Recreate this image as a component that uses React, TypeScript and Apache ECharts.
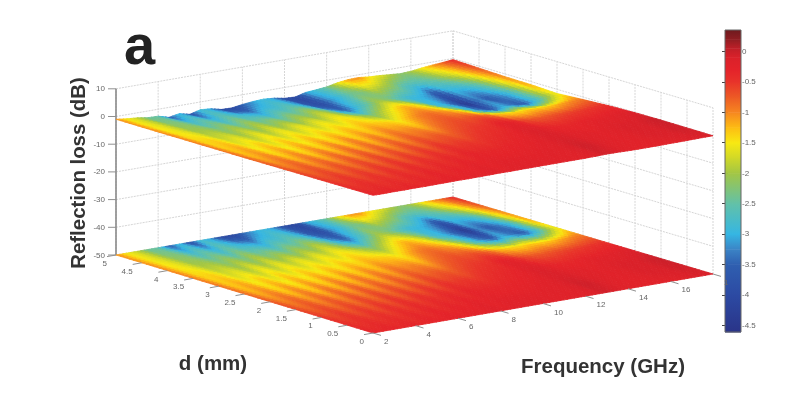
import React, { useEffect, useRef } from "react";
import * as echarts from "echarts";

const frequencies = [2, 2.5, 3, 3.5, 4, 4.5, 5, 5.5, 6, 6.5, 7, 7.5, 8, 8.5, 9, 9.5, 10, 10.5, 11, 11.5, 12, 12.5, 13, 13.5, 14, 14.5, 15, 15.5, 16, 16.5, 17, 17.5, 18];
const thicknesses = [0, 0.5, 1, 1.5, 2, 2.5, 3, 3.5, 4, 4.5, 5];

// one row per frequency, one value per thickness
const lossByFrequency = [
  [-.3, -.4, -.5, -.6, -.7, -.8, -.85, -.9, -.95, -1, -1],
  [-.35, -.5, -.65, -.85, -1.05, -1.25, -1.35, -1.4, -1.45, -1.5, -1.5],
  [-.3, -.4, -.5, -.65, -.8, -1.0, -1.15, -1.35, -1.6, -1.7, -1.8],
  [-.35, -.5, -.7, -.95, -1.2, -1.45, -1.6, -1.8, -2, -2.2, -2.4],
  [-.3, -.4, -.5, -.65, -.85, -1.05, -1.3, -1.65, -2, -2.25, -2.5],
  [-.35, -.5, -.7, -.95, -1.25, -1.5, -1.7, -2, -2.3, -2.8, -3.6],
  [-.3, -.35, -.45, -.6, -.8, -1.05, -1.3, -1.6, -2.05, -2.5, -2.9],
  [-.3, -.45, -.65, -.9, -1.2, -1.45, -1.65, -2, -2.4, -3, -3.8],
  [-.25, -.3, -.4, -.55, -.75, -1.0, -1.3, -1.6, -2, -2.5, -2.8],
  [-.3, -.4, -.6, -.85, -1.15, -1.4, -1.6, -1.95, -2.4, -2.8, -3.1],
  [-.25, -.3, -.4, -.55, -.75, -.95, -1.3, -1.6, -2.2, -3, -4],
  [-.25, -.35, -.5, -.8, -1.1, -1.35, -1.55, -1.9, -2.5, -3.2, -4.1],
  [-.2, -.25, -.35, -.5, -.7, -.95, -1.25, -1.55, -2.1, -2.8, -3.5],
  [-.25, -.3, -.45, -.7, -1, -1.25, -1.45, -1.8, -2.3, -2.8, -3.1],
  [-.2, -.25, -.3, -.45, -.65, -.9, -1.2, -1.45, -1.9, -2.6, -2.9],
  [-.2, -.25, -.35, -.55, -.8, -1.05, -1.3, -1.65, -2.2, -2.9, -3.2],
  [-.2, -.25, -.35, -.5, -.7, -1, -1.35, -2.0, -3.0, -3.7, -3.9],
  [-.2, -.25, -.35, -.55, -.8, -1.2, -1.55, -2.3, -3.5, -4.0, -4.1],
  [-.2, -.25, -.3, -.45, -.65, -.9, -1.2, -1.9, -2.9, -3.2, -3.1],
  [-.2, -.2, -.3, -.4, -.55, -.75, -.95, -1.5, -2.5, -2.9, -2.8],
  [-.2, -.2, -.25, -.35, -.5, -.65, -.85, -1.2, -2, -2.4, -2.4],
  [-.15, -.15, -.2, -.3, -.45, -.7, -1, -1.4, -2.2, -2.3, -1.6],
  [-.05, -.05, -.1, -.15, -.25, -.65, -1.2, -1.9, -2.6, -1.8, -1.1],
  [-.1, -.05, -.1, -.15, -.3, -.8, -1.7, -2.8, -2.9, -2, -1.0],
  [-.2, -.15, -.2, -.3, -.6, -1.2, -2.6, -3.05, -3, -2.2, -1.4],
  [-.25, -.2, -.2, -.35, -.7, -1.35, -3.2, -3.6, -3.2, -2.6, -1.6],
  [-.25, -.25, -.25, -.35, -.7, -1.4, -3.6, -4.5, -3.9, -2.7, -1.9],
  [-.25, -.2, -.2, -.3, -.65, -1.3, -3, -3.2, -3, -2.6, -2.2],
  [-.2, -.15, -.15, -.25, -.6, -1.35, -3.3, -3.6, -3, -2.4, -2.0],
  [-.2, -.1, -.1, -.25, -.55, -1.3, -3.6, -3.3, -2.8, -2, -1.5],
  [-.15, -.1, -.1, -.2, -.5, -1.15, -2.95, -2.85, -2.3, -1.6, -1.1],
  [-.1, -.05, -.05, -.15, -.45, -1, -2.2, -2, -1.5, -1.1, -.8],
  [-.1, -.05, 0, -.1, -.4, -.9, -1.5, -1.1, -1, -.7, -.4],
];

const freqTicks = [2, 4, 6, 8, 10, 12, 14, 16, 18];
const freqTickLabels = ["2", "4", "6", "8", "10", "12", "14", "16", "1"];
const dTicks = [0, 0.5, 1, 1.5, 2, 2.5, 3, 3.5, 4, 4.5, 5];
const dTickLabels = ["0", "0.5", "1", "1.5", "2", "2.5", "3", "3.5", "4", "4.5", "5"];
const zTicks = [10, 0, -10, -20, -30, -40, -50];
const barTicks = [0, -0.5, -1, -1.5, -2, -2.5, -3, -3.5, -4, -4.5];

const colorValues = [-4.61, -4, -3.5, -3.25, -3, -2.5, -2, -1.75, -1.5, -1.25, -1, -0.75, -0.5, -0.3, -0.1, 0.05, 0.2, 0.35];
const colorHex = ["#2a3488", "#2c4aa3", "#2f5fb0", "#3b84c6", "#35b6e3", "#62c1a8", "#a3c644", "#d0d828", "#f8e912", "#fdbc13", "#f68620", "#ed5a25", "#e8332a", "#e4232a", "#da212a", "#bf1f28", "#8f1d22", "#6e1a1e"];

const GRAY = "#666666";
const FONT = '"Liberation Sans", Arial, sans-serif';

const toRgb = (h: string) => [1, 3, 5].map((i) => parseInt(h.slice(i, i + 2), 16));
const colorOf = (v: number) => {
  if (v <= colorValues[0]) return colorHex[0];
  for (let i = 1; i < colorValues.length; i++) {
    if (v <= colorValues[i]) {
      const t = (v - colorValues[i - 1]) / (colorValues[i] - colorValues[i - 1]);
      const a = toRgb(colorHex[i - 1]);
      const b = toRgb(colorHex[i]);
      return `rgb(${a.map((c, k) => Math.round(c + (b[k] - c) * t)).join(",")})`;
    }
  }
  return colorHex[colorHex.length - 1];
};

// oblique view of the (frequency, thickness, loss) box, into the hidden page axes
const project = (f: number, d: number, z: number) => {
  const u = (f - 2) / 16;
  const v = d / 5;
  return [373 + 340 * u - 257 * v - 3 * u * v, 333 - 59 * u - 78 * v + u * v - (z + 50) * 2.77];
};

const SUB_F = 3;
const SUB_D = 6;
const cells: number[][] = [];
for (let j = thicknesses.length - 2; j >= 0; j--) {
  for (let i = 0; i < frequencies.length - 1; i++) cells.push([i, j]);
}

const surface = (flat: boolean) => (params: any, api: any) => {
  const [i, j] = cells[params.dataIndex];
  const q00 = lossByFrequency[i][j];
  const q10 = lossByFrequency[i + 1][j];
  const q01 = lossByFrequency[i][j + 1];
  const q11 = lossByFrequency[i + 1][j + 1];
  const val = (a: number, b: number) =>
    q00 * (1 - a) * (1 - b) + q10 * a * (1 - b) + q01 * (1 - a) * b + q11 * a * b;
  const pt = (a: number, b: number) => {
    const f = frequencies[i] + a * (frequencies[i + 1] - frequencies[i]);
    const d = thicknesses[j] + b * (thicknesses[j + 1] - thicknesses[j]);
    return api.coord(project(f, d, flat ? -50 : val(a, b)));
  };
  const children: any[] = [];
  for (let m = SUB_D - 1; m >= 0; m--) {
    for (let n = 0; n < SUB_F; n++) {
      const a0 = n / SUB_F, a1 = (n + 1) / SUB_F, b0 = m / SUB_D, b1 = (m + 1) / SUB_D;
      const c = colorOf(val((a0 + a1) / 2, (b0 + b1) / 2));
      children.push({
        type: "polygon",
        shape: { points: [pt(a0, b0), pt(a1, b0), pt(a1, b1), pt(a0, b1)] },
        style: { fill: c, stroke: c, lineWidth: 0.8 },
      });
    }
  }
  return { type: "group", children };
};

type Seg = { p: number[][]; kind: string };
const wallSegs: Seg[] = [];
freqTicks.forEach((f) => wallSegs.push({ p: [[f, 5, -50], [f, 5, 10]], kind: "grid" }));
dTicks.forEach((d) => wallSegs.push({ p: [[18, d, -50], [18, d, 10]], kind: "grid" }));
zTicks.forEach((z) => {
  wallSegs.push({ p: [[2, 5, z], [18, 5, z]], kind: "grid" });
  wallSegs.push({ p: [[18, 5, z], [18, 0, z]], kind: "grid" });
});

const drawSeg = (list: Seg[]) => (params: any, api: any) => {
  const s = list[params.dataIndex];
  const a = api.coord(project(s.p[0][0], s.p[0][1], s.p[0][2]));
  const b = api.coord(project(s.p[1][0], s.p[1][1], s.p[1][2]));
  return {
    type: "line",
    shape: { x1: a[0], y1: a[1], x2: b[0], y2: b[1] },
    style: s.kind === "grid"
      ? { stroke: "#d6d6d6", lineWidth: 1, lineDash: [2, 1] }
      : { stroke: "#8a8a8a", lineWidth: s.kind === "axis" ? 1.6 : 1 },
  };
};

const axisSegs: Seg[] = [{ p: [[2, 5, -50], [2, 5, 10]], kind: "axis" }];

const drawTicks = (params: any, api: any) => {
  const children: any[] = [];
  const line = (a: number[], b: number[]) => children.push({
    type: "line",
    shape: { x1: a[0], y1: a[1], x2: b[0], y2: b[1] },
    style: { stroke: "#909090", lineWidth: 1 },
  });
  const label = (text: string, x: number, y: number, align: string) => children.push({
    type: "text",
    style: { text, x, y, fill: GRAY, fontSize: 8, fontFamily: FONT, align, verticalAlign: "middle" },
  });
  zTicks.forEach((z) => {
    const a = api.coord(project(2, 5, z));
    line(a, [a[0] - 8, a[1]]);
    label(String(z), a[0] - 11, a[1], "right");
  });
  dTicks.forEach((d, i) => {
    const a = api.coord(project(2, d, -50));
    line(a, [a[0] - 9, a[1] + 1.6]);
    label(dTickLabels[i], a[0] - 9, a[1] + 8.5, "right");
  });
  freqTicks.forEach((f, i) => {
    const a = api.coord(project(f, 0, -50));
    line(a, [a[0] + 8, a[1] + 2.4]);
    label(freqTickLabels[i], a[0] + 11, a[1] + 8.5, "left");
  });
  return { type: "group", children };
};

const drawBar = (params: any, api: any) => {
  const i = params.dataIndex;
  const top = api.coord([0, colorValues[i + 1]]);
  const bottom = api.coord([1, colorValues[i]]);
  return {
    type: "rect",
    shape: { x: top[0], y: top[1], width: bottom[0] - top[0], height: bottom[1] - top[1] + 0.5 },
    style: {
      fill: new echarts.graphic.LinearGradient(0, 0, 0, 1, [
        { offset: 0, color: colorHex[i + 1] },
        { offset: 1, color: colorHex[i] },
      ]),
    },
  };
};

export default function App() {
  const ref = useRef<HTMLDivElement>(null);
  useEffect(() => {
    const chart = echarts.init(ref.current!, undefined, { renderer: "svg" });
    const custom = (renderItem: any, data: any[], z: number) => ({
      type: "custom", renderItem, data, z, silent: true, clip: false, xAxisIndex: 0, yAxisIndex: 0,
    });
    chart.setOption({
      animation: false,
      backgroundColor: "#ffffff",
      grid: [
        { left: 0, top: 0, width: 800, height: 395, show: false },
        { left: 725, top: 30, width: 16, height: 302, show: true, borderColor: "#666", borderWidth: 1, z: 5 },
      ],
      xAxis: [
        { type: "value", gridIndex: 0, min: 0, max: 800, show: false },
        { type: "value", gridIndex: 1, min: 0, max: 1, show: false },
      ],
      yAxis: [
        { type: "value", gridIndex: 0, min: 0, max: 395, inverse: true, show: false },
        {
          type: "value", gridIndex: 1, min: -4.61, max: 0.35, position: "right", splitLine: { show: false },
          axisLine: { show: false },
          axisTick: { inside: true, length: 3, lineStyle: { color: "#444" }, customValues: barTicks },
          axisLabel: { customValues: barTicks, margin: 1, fontSize: 8, color: GRAY, fontFamily: FONT, formatter: (v: number) => String(v) },
        },
        {
          type: "value", gridIndex: 1, min: -4.61, max: 0.35, position: "left", splitLine: { show: false },
          axisLine: { show: false },
          axisTick: { inside: true, length: 3, lineStyle: { color: "#444" }, customValues: barTicks },
          axisLabel: { show: false },
        },
      ],
      series: [
        custom(drawSeg(wallSegs), wallSegs.map((_, i) => [i, 0]), 1),
        custom(drawSeg(axisSegs), axisSegs.map((_, i) => [i, 0]), 2),
        custom(surface(true), cells, 3),
        custom(surface(false), cells, 4),
        custom(drawTicks, [[0, 0]], 5),
        {
          type: "custom", renderItem: drawBar, data: colorValues.slice(1).map((v) => [0, v]), silent: true,
          xAxisIndex: 1, yAxisIndex: 1, z: 3,
        },
      ],
      graphic: [
        { type: "text", x: 124, y: 44, style: { text: "a", fill: "#222", font: `bold 56px ${FONT}`, align: "left", verticalAlign: "middle" } },
        { type: "text", x: 78, y: 173, rotation: Math.PI / 2, style: { text: "Reflection loss (dB)", fill: "#333", font: `bold 20.4px ${FONT}`, align: "center", verticalAlign: "middle" } },
        { type: "text", x: 213, y: 362, style: { text: "d (mm)", fill: "#333", font: `bold 20.5px ${FONT}`, align: "center", verticalAlign: "middle" } },
        { type: "text", x: 603, y: 365, style: { text: "Frequency (GHz)", fill: "#333", font: `bold 20.5px ${FONT}`, align: "center", verticalAlign: "middle" } },
      ],
    });
    return () => chart.dispose();
  }, []);
  return <div ref={ref} style={{ position: "fixed", left: 0, top: 0, width: 800, height: 395, filter: "blur(0.7px)" }} />;
}
